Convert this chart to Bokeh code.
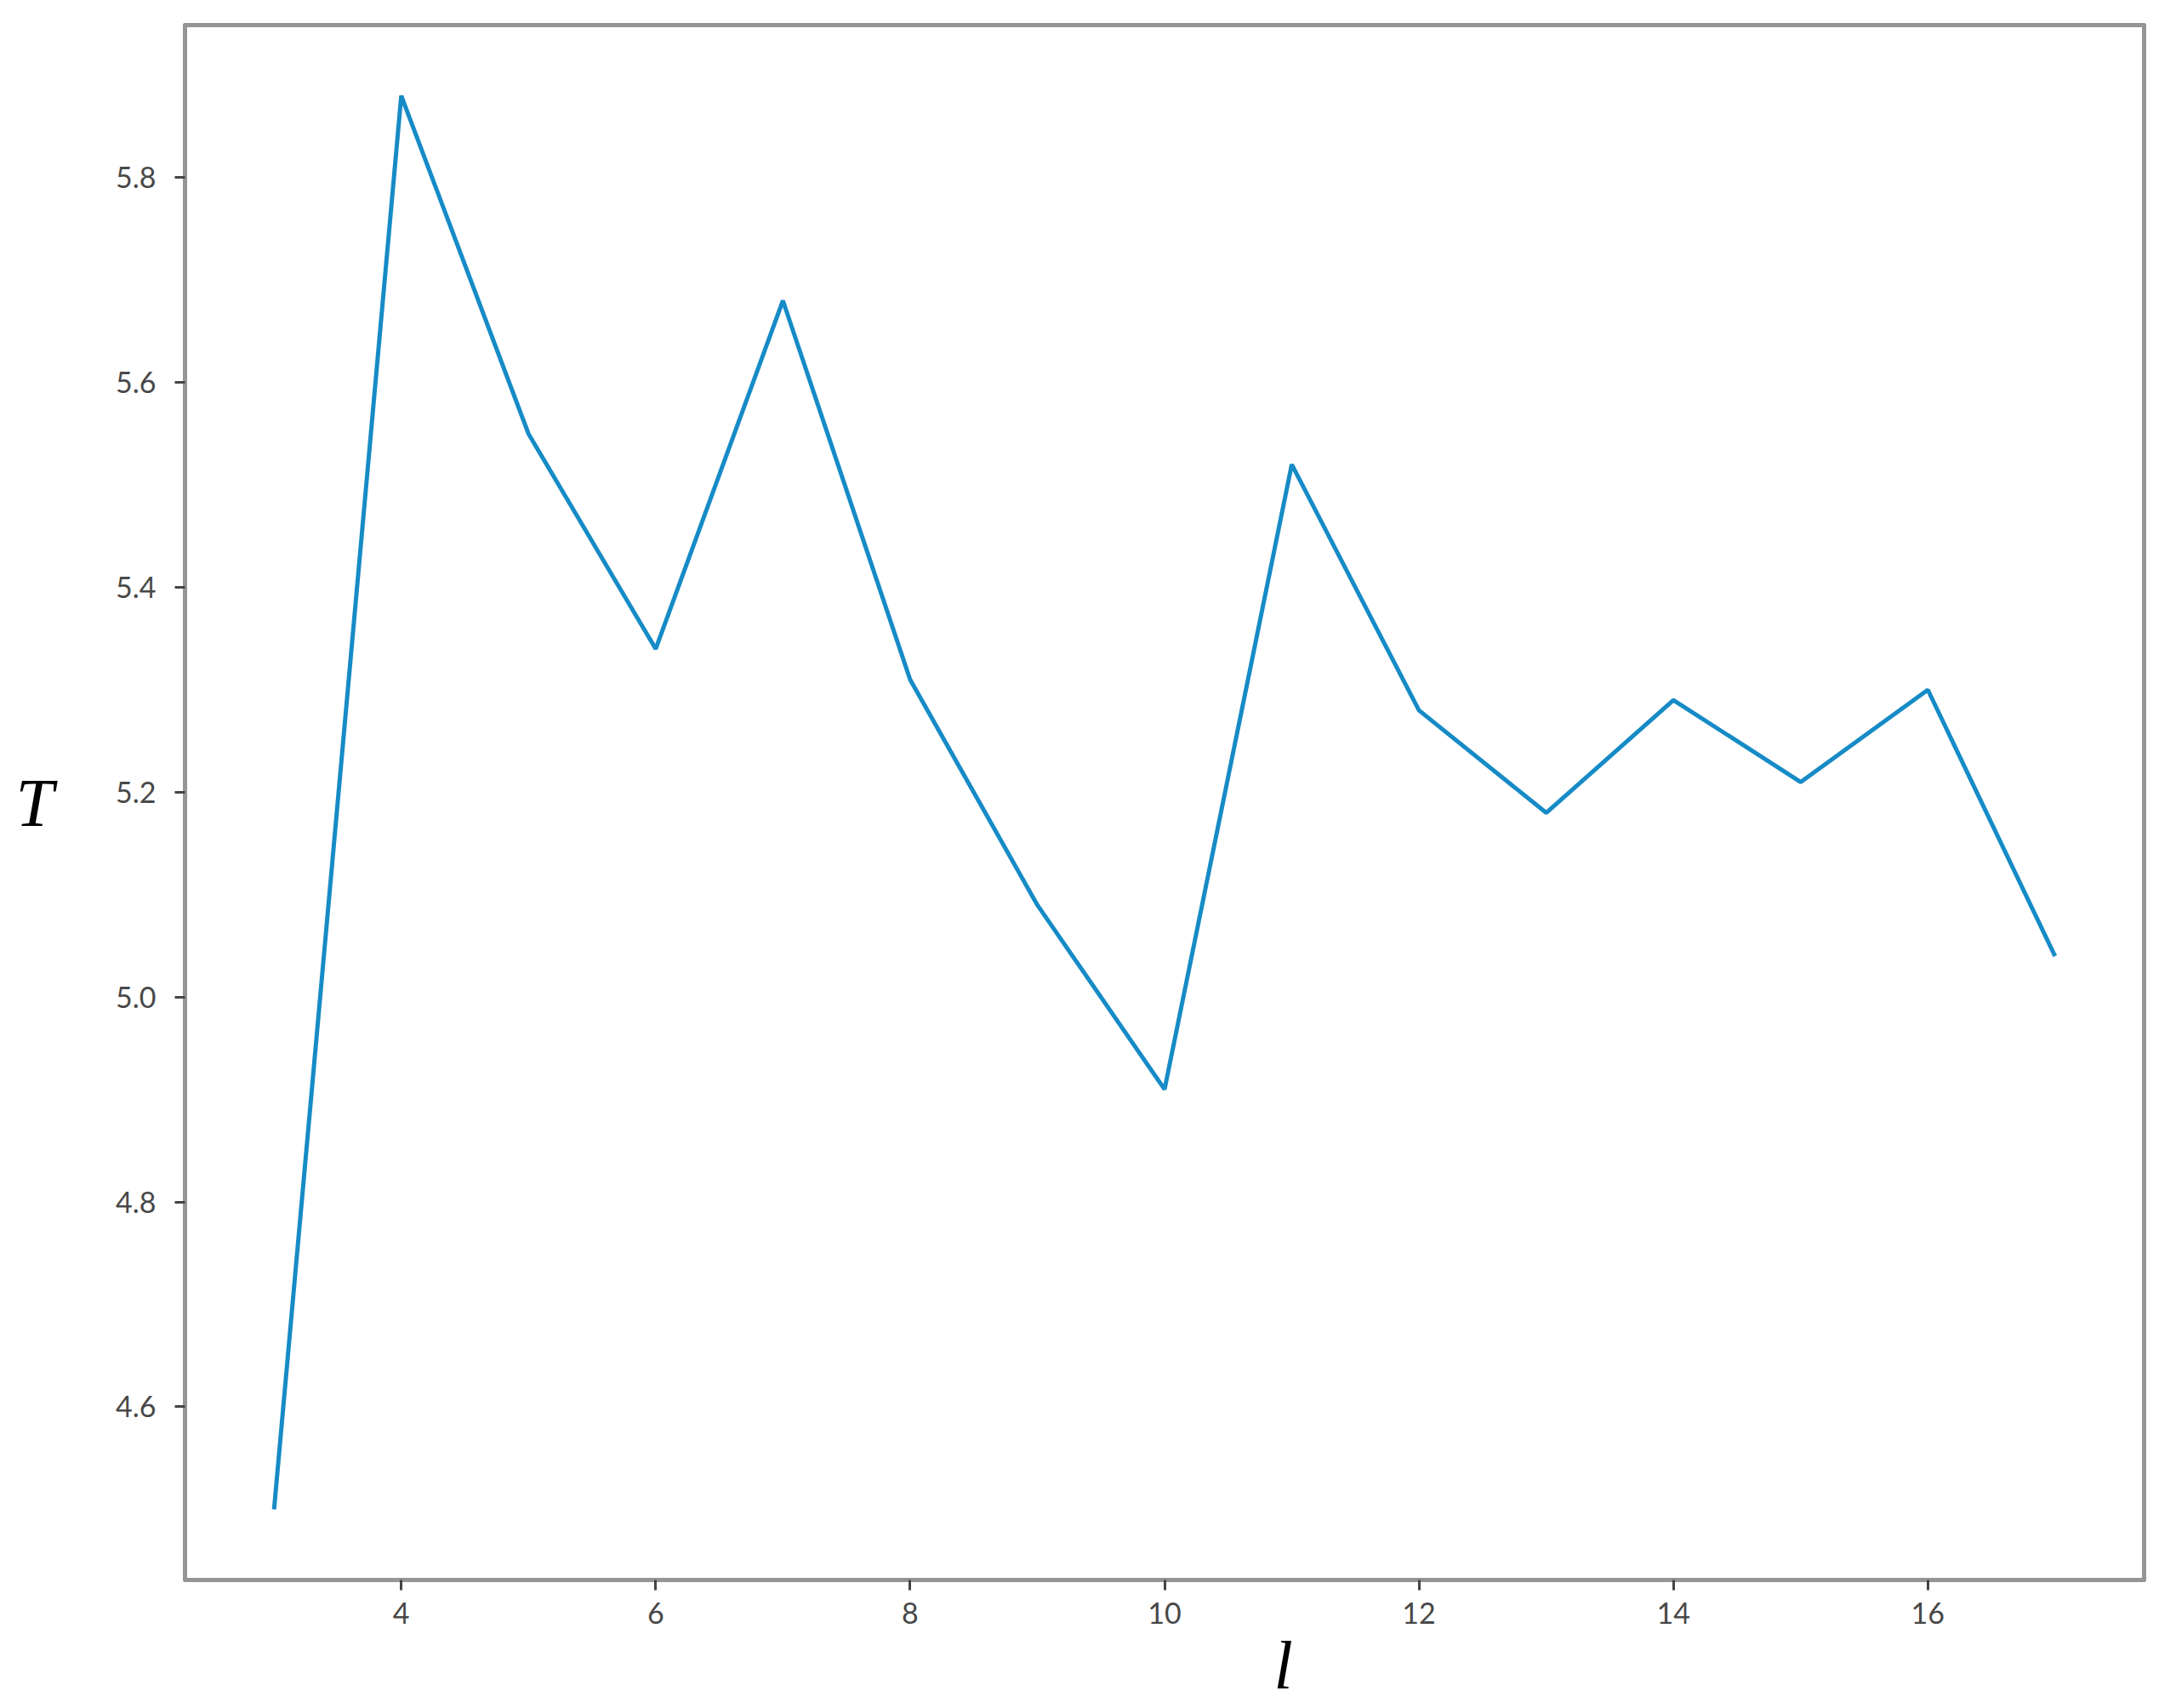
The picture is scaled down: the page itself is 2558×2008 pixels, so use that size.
from bokeh.plotting import figure
from bokeh.models import Range1d, FixedTicker, Title
from bokeh.embed import file_html
from bokeh.resources import INLINE

# Data
l_values = [3, 4, 5, 6, 7, 8, 9, 10, 11, 12, 13, 14, 15, 16, 17]
T_values = [4.50, 5.88, 5.55, 5.34, 5.68, 5.31, 5.09, 4.91, 5.52, 5.28, 5.18, 5.29, 5.21, 5.30, 5.04]
x_ticks = [4, 6, 8, 10, 12, 14, 16]
y_ticks = [4.6, 4.8, 5.0, 5.2, 5.4, 5.6, 5.8]

# matplotlib-like 5% margins
xmin, xmax = min(l_values), max(l_values)
ymin, ymax = min(T_values), max(T_values)
xpad = 0.05 * (xmax - xmin)
ypad = 0.05 * (ymax - ymin)
x0, x1 = xmin - xpad, xmax + xpad
y0, y1 = ymin - ypad, ymax + ypad

FW, FH = 2303, 1828

p = figure(
    frame_width=FW, frame_height=FH,
    min_border_left=217, min_border_right=30, min_border_top=29, min_border_bottom=40,
    x_range=Range1d(x0, x1), y_range=Range1d(y0, y1),
    output_backend="svg", toolbar_location=None,
)
p.background_fill_color = "white"
p.border_fill_color = "white"
p.grid.visible = False
p.outline_line_color = "#959595"
p.outline_line_width = 5
p.outline_line_join = "round"

p.line(l_values, T_values, line_color="#168bc6", line_width=5)

for ax in (p.xaxis[0], p.yaxis[0]):
    ax.axis_line_color = None
    ax.major_tick_line_color = "#444444"
    ax.major_tick_line_width = 3
    ax.major_tick_out = 12
    ax.major_tick_in = 0
    ax.minor_tick_line_color = None
    ax.major_label_text_font = "Lato"
    ax.major_label_text_font_size = "34px"
    ax.major_label_text_color = "#484848"

p.xaxis[0].ticker = FixedTicker(ticks=x_ticks)
p.yaxis[0].ticker = FixedTicker(ticks=y_ticks)
p.xaxis[0].major_label_standoff = 14
p.yaxis[0].major_label_standoff = 22
p.xaxis[0].major_label_overrides = {t: str(t) for t in x_ticks}
p.yaxis[0].major_label_overrides = {t: f"{t:.1f}" for t in y_ticks}

p.yaxis[0].axis_label = "T"
p.yaxis[0].axis_label_orientation = "horizontal"
p.yaxis[0].axis_label_text_font = "Liberation Serif"
p.yaxis[0].axis_label_text_font_style = "italic"
p.yaxis[0].axis_label_text_font_size = "80px"
p.yaxis[0].axis_label_text_color = "black"
p.yaxis[0].axis_label_standoff = 70

# x-axis label "l", placed right of centre as in the reference
p.add_layout(Title(text="l", align="left", offset=1280, standoff=0,
                   text_font="Liberation Serif", text_font_style="italic",
                   text_font_size="80px", text_color="black"), "below")

open("out.html", "w").write(file_html(p, INLINE))
